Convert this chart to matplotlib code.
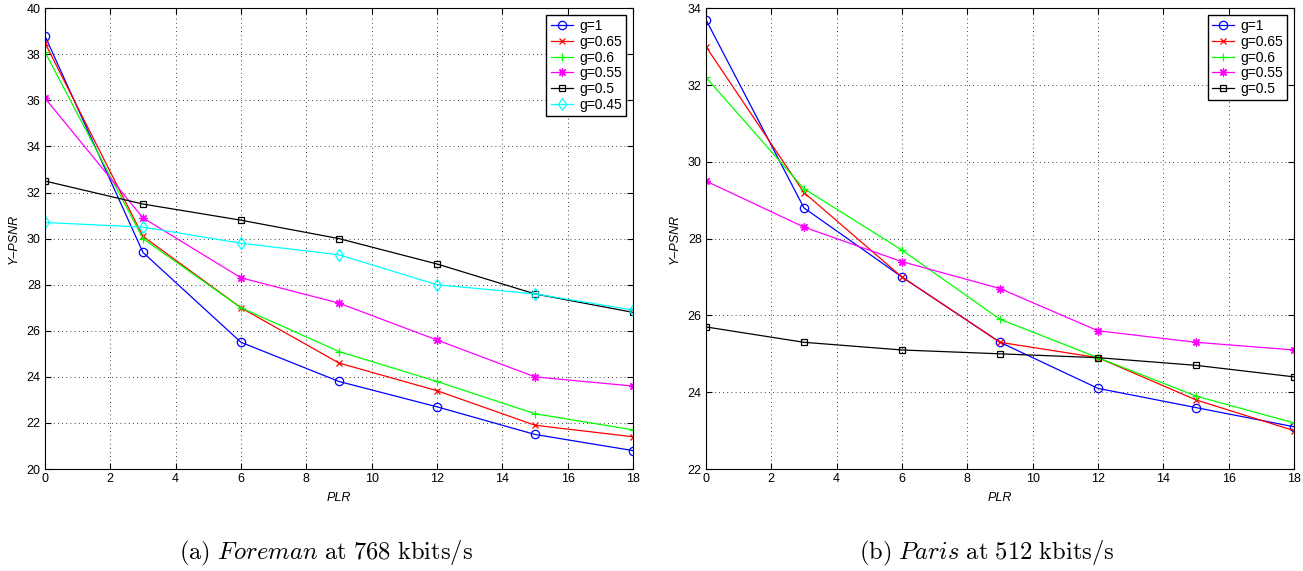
import matplotlib.pyplot as plt

plt.rcParams['font.family'] = ['Liberation Sans', 'DejaVu Sans']
plt.rcParams['mathtext.fontset'] = 'cm'

plr = [0, 3, 6, 9, 12, 15, 18]

# Foreman at 768 kbits/s
foreman_labels = ['g=1', 'g=0.65', 'g=0.6', 'g=0.55', 'g=0.5', 'g=0.45']
foreman_g1 = [38.8, 29.4, 25.5, 23.8, 22.7, 21.5, 20.8]
foreman_g065 = [38.5, 30.1, 27.0, 24.6, 23.4, 21.9, 21.4]
foreman_g06 = [38.1, 30.0, 27.0, 25.1, 23.8, 22.4, 21.7]
foreman_g055 = [36.1, 30.9, 28.3, 27.2, 25.6, 24.0, 23.6]
foreman_g05 = [32.5, 31.5, 30.8, 30.0, 28.9, 27.6, 26.8]
foreman_g045 = [30.7, 30.5, 29.8, 29.3, 28.0, 27.6, 26.9]

# Paris at 512 kbits/s
paris_labels = ['g=1', 'g=0.65', 'g=0.6', 'g=0.55', 'g=0.5']
paris_g1 = [33.7, 28.8, 27.0, 25.3, 24.1, 23.6, 23.1]
paris_g065 = [33.0, 29.2, 27.0, 25.3, 24.9, 23.8, 23.0]
paris_g06 = [32.2, 29.3, 27.7, 25.9, 24.9, 23.9, 23.2]
paris_g055 = [29.5, 28.3, 27.4, 26.7, 25.6, 25.3, 25.1]
paris_g05 = [25.7, 25.3, 25.1, 25.0, 24.9, 24.7, 24.4]

# matlab-ish line styles: colour, marker, size
styles = [('#0000ff', 'o', 6), ('#ff0000', 'x', 4.5), ('#00ff00', '+', 6),
          ('#ff00ff', (8, 2, 0), 6), ('#000000', 's', 5), ('#00ffff', 'd', 6.5)]


def draw(ax, series, labels, ylim, yticks):
    for (c, m, ms), ys, lab in zip(styles, series, labels):
        ax.plot(plr, ys, color=c, marker=m, markersize=ms,
                markerfacecolor='none', markeredgewidth=0.9, linewidth=0.9, label=lab)
    ax.set_xlim(0, 18)
    ax.set_ylim(*ylim)
    ax.set_xticks(range(0, 19, 2))
    ax.set_yticks(yticks)
    ax.grid(True, color='black', linestyle=(0, (1, 4)), linewidth=0.6)
    ax.tick_params(direction='in', top=True, right=True, labelsize=9, length=4,
                   width=0.8, pad=3)
    for s in ax.spines.values():
        s.set_linewidth(0.8)
    ax.set_xlabel('PLR', style='italic', fontsize=9, labelpad=5)
    ax.set_ylabel('Y\u2013PSNR', style='italic', fontsize=9, labelpad=5)
    leg = ax.legend(loc='upper right', fontsize=10, fancybox=False, framealpha=1,
                    edgecolor='black', handlelength=1.6, borderpad=0.3,
                    labelspacing=0.12, handletextpad=0.45, borderaxespad=0.5)
    leg.get_frame().set_linewidth(1.0)


fig = plt.figure(figsize=(13.03, 5.71), dpi=100)
ax1 = fig.add_axes([0.0345, 0.1786, 0.4513, 0.807])
ax2 = fig.add_axes([0.5418, 0.1786, 0.4513, 0.807])

draw(ax1, [foreman_g1, foreman_g065, foreman_g06, foreman_g055, foreman_g05, foreman_g045],
     foreman_labels, (20, 40), range(20, 41, 2))
draw(ax2, [paris_g1, paris_g065, paris_g06, paris_g055, paris_g05],
     paris_labels, (22, 34), range(22, 35, 2))

fig.text(0.2505, 0.02, r'$\mathrm{(a)}\ \mathit{Foreman}\ \mathrm{at\ 768\ kbits/s}$',
         ha='center', va='baseline', fontsize=17.7)
fig.text(0.7575, 0.02, r'$\mathrm{(b)}\ \mathit{Paris}\ \mathrm{at\ 512\ kbits/s}$',
         ha='center', va='baseline', fontsize=17.7)

fig.savefig('out.png', dpi=100)
